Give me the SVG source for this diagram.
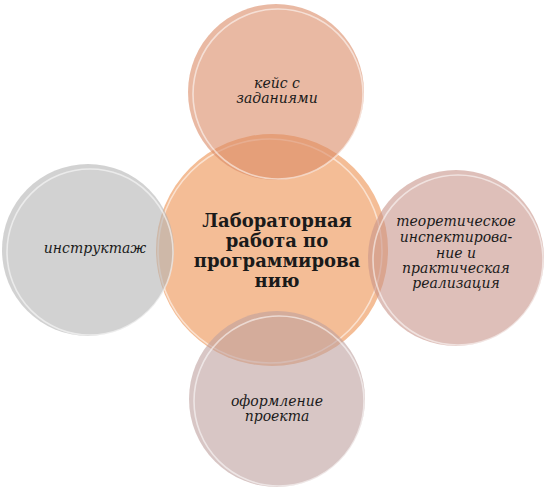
<svg xmlns="http://www.w3.org/2000/svg" width="547" height="500" viewBox="0 0 547 500">
<style>
.lbl{font-family:"DejaVu Serif","Liberation Serif",serif;font-style:italic;font-size:14px;fill:#1a1a1a;text-anchor:middle}
.main{font-family:"DejaVu Serif","Liberation Serif",serif;font-weight:bold;font-size:18px;fill:#1a1a1a;text-anchor:middle}
.ring{fill:none;stroke:#ffffff;stroke-width:1.6;stroke-opacity:0.55}
.sat{fill-opacity:0.6}
</style>
<rect width="547" height="500" fill="#ffffff"/>
<g id="center">
<circle cx="272" cy="250" r="116" fill="#F4BD96"/>
<circle class="ring" cx="270" cy="251" r="112"/>
</g>
<g id="top">
<circle class="sat" cx="276" cy="92" r="88" fill="#DA8A66"/>
<circle class="ring" cx="278" cy="94" r="85"/>
<text class="lbl" x="277" y="88">кейс с</text>
<text class="lbl" x="277" y="103">заданиями</text>
</g>
<g id="right">
<circle class="sat" cx="456" cy="258" r="88" fill="#C8948A"/>
<circle class="ring" cx="458" cy="260" r="85"/>
<text class="lbl" x="456" y="226">теоретическое</text>
<text class="lbl" x="456" y="242">инспектирова-</text>
<text class="lbl" x="456" y="258">ние и</text>
<text class="lbl" x="456" y="273">практическая</text>
<text class="lbl" x="456" y="288">реализация</text>
</g>
<g id="bottom">
<circle class="sat" cx="277" cy="399" r="88" fill="#BEA09E"/>
<circle class="ring" cx="279" cy="401" r="85"/>
<text class="lbl" x="277" y="406">оформление</text>
<text class="lbl" x="277" y="421">проекта</text>
</g>
<g id="left">
<circle class="sat" cx="88" cy="250" r="86" fill="#B4B4B4"/>
<circle class="ring" cx="90" cy="252" r="83"/>
<text class="lbl" x="95" y="253">инструктаж</text>
</g>
<g id="center-label">
<text class="main" x="277" y="227">Лабораторная</text>
<text class="main" x="277" y="247">работа по</text>
<text class="main" x="277" y="267">программирова</text>
<text class="main" x="277" y="287">нию</text>
</g>
</svg>
